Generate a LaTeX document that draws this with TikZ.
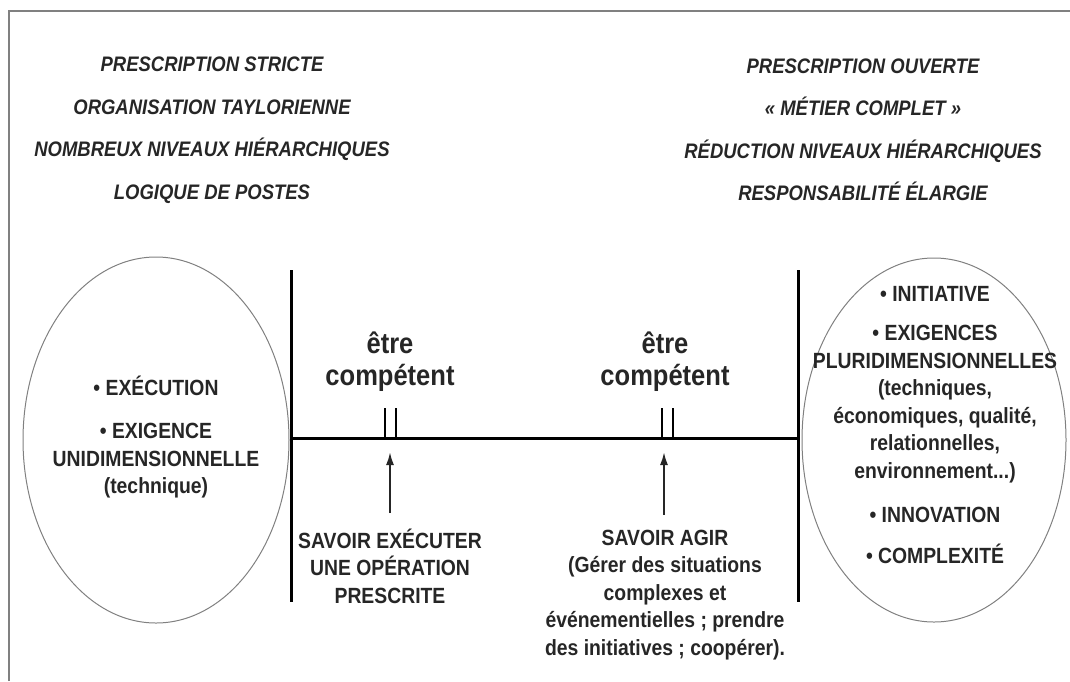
\documentclass[tikz,border=0pt]{standalone}
\usepackage{fontspec}
\setmainfont{Liberation Sans}[FakeStretch=0.88]
\usetikzlibrary{shapes.geometric, arrows.meta}

\tikzset{
  pole/.style = {draw, ellipse, color=gray, line width=1pt, inner sep=0pt},
  heading/.style = {align=center, text=black!85, font=\fontsize{21}{42.5}\selectfont\bfseries\itshape},
  itemtext/.style = {align=center, text=black!85, font=\fontsize{22}{27.5}\selectfont\bfseries},
  degree/.style = {align=center, text=black!85, font=\fontsize{29}{32}\selectfont\bfseries},
  axisline/.style = {line width=3pt},
  notch/.style = {line width=1.5pt},
  pointer/.style = {-{Latex[length=13pt, width=8pt]}, line width=2pt, color=black!85}
}

\begin{document}
\begin{tikzpicture}[x=1pt, y=-1pt]
    \useasboundingbox (0,0) rectangle (1070,681);
    \draw[color=gray, line width=1.5pt] (9,681) -- (9,11) -- (1070,11);

    \node[heading] (strict) at (212,130) {PRESCRIPTION STRICTE\\ORGANISATION TAYLORIENNE\\NOMBREUX NIVEAUX HIÉRARCHIQUES\\LOGIQUE DE POSTES};
    \node[heading] (open) at (863,130) {PRESCRIPTION OUVERTE\\«~MÉTIER COMPLET~»\\RÉDUCTION NIVEAUX HIÉRARCHIQUES\\RESPONSABILITÉ ÉLARGIE};

    \node[pole, minimum width=266pt, minimum height=366pt] (exec) at (156,440) {};
    \node[pole, minimum width=264pt, minimum height=364pt] (agir) at (934,440) {};
    \node[itemtext] (execlist) at (156,437) {•~EXÉCUTION\\[16pt]•~EXIGENCE\\UNIDIMENSIONNELLE\\(technique)};
    \node[itemtext] (agirlist) at (935,425) {•~INITIATIVE\\[12pt]•~EXIGENCES\\PLURIDIMENSIONNELLES\\(techniques,\\économiques, qualité,\\relationnelles,\\environnement...)\\[17pt]•~INNOVATION\\[13pt]•~COMPLEXITÉ};

    \coordinate (axL) at (291,438);
    \coordinate (axR) at (798,438);
    \draw[axisline] (291,270) -- (291,602);
    \draw[axisline] (798,270) -- (798,602);
    \draw[axisline] (axL) -- (axR);

    \foreach \x in {385,396,662,673}
      \draw[notch] (\x,408) -- (\x,438);

    \node[degree] (lowlevel) at (390,362) {être\\compétent};
    \node[degree] (highlevel) at (665,362) {être\\compétent};

    \node[itemtext] (execute) at (390,566) {SAVOIR EXÉCUTER\\UNE OPÉRATION\\PRESCRITE};
    \node[itemtext] (act) at (665,595) {SAVOIR AGIR\\(Gérer des situations\\complexes et\\événementielles ; prendre\\des initiatives ; coopérer).};

    \coordinate (tipL) at (390,452);
    \coordinate (tipR) at (664,452);
    \draw[pointer] ([yshift=12pt]execute.north) -- (tipL);
    \draw[pointer] ([yshift=12pt]act.north -| tipR) -- (tipR);
  \end{tikzpicture}
\end{document}
